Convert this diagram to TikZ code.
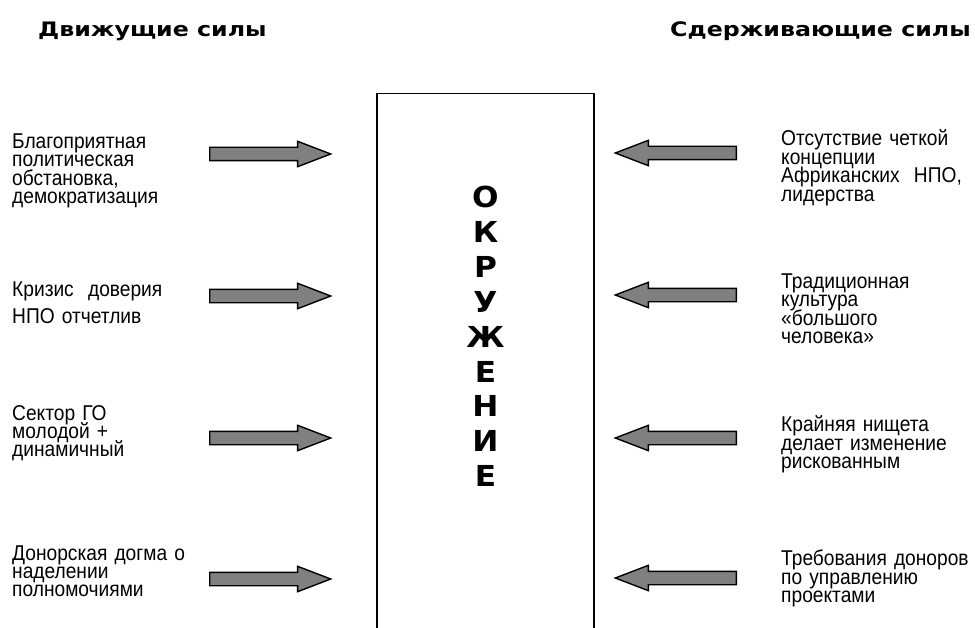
\documentclass[tikz,border=0pt]{standalone}
\usepackage{fontspec}
\setmainfont{Liberation Sans}
\newfontfamily\narrowfont[FakeStretch=0.895]{Liberation Sans}
\newfontfamily\headfont[FakeStretch=1.19]{DejaVu Sans}
\newfontfamily\wordfont[FakeStretch=1.08]{DejaVu Sans}
\usetikzlibrary{shapes.arrows, positioning}

\newcommand\bodysize{\narrowfont\fontsize{21.5}{18.5}\selectfont\lineskiplimit=-20pt\relax}

\begin{document}
\begin{tikzpicture}[ x = 1bp
                     , y = -1bp
                     , every node/.style = { inner sep = 0pt }
                     , force/.style = { single arrow
                                      , draw = black
                                      , line width = 1.4bp
                                      , fill = black!50
                                      , inner xsep = 0pt
                                      , inner ysep = 6bp
                                      , minimum height = 121bp
                                      , minimum width = 24bp
                                      , single arrow head extend = 6bp
                                      , single arrow tip angle = 42
                                      , anchor = tail }
                     , cause/.style = { anchor = base west
                                      , text width = 200bp
                                      , align = left
                                      , font = \bodysize }
                     , heading/.style = { anchor = base west
                                        , font = \headfont\bfseries\fontsize{20}{22}\selectfont }
                     ]

  \useasboundingbox (0,0) rectangle (975,628);

  \node (driving) [heading] at (38,37) {Движущие силы};
  \node (restraining) [heading] at (670,37) {Сдерживающие силы};

  \node (env) [draw, line width = 1.5bp, minimum width = 217bp, minimum height = 570bp, anchor = north] at (485.5,93) {};
  \node (envword) [align = center, font = \wordfont\bfseries\fontsize{29}{35}\selectfont] at (485.5,336.5)
  {О\\К\\Р\\У\\Ж\\Е\\Н\\И\\Е};

  \node (push1) [force] at (209,154) {};
  \node (push2) [force] at (209,296) {};
  \node (push3) [force] at (209,438) {};
  \node (push4) [force] at (209,579) {};

  \tikzset{force/.append style = { shape border rotate = 180 }}

  \node (hold1) [force] at (737,153) {};
  \node (hold2) [force] at (737,295) {};
  \node (hold3) [force] at (737,438) {};
  \node (hold4) [force] at (737,578) {};

  \node (cause1) [cause] at (12,148.3) {Благоприятная\\ политическая\\ обстановка,\\ демократизация};
  \node (cause2) [cause] at (12,296.7) {Кризис~ доверия\\[8.1bp] НПО отчетлив};
  \node (cause3) [cause] at (12,420) {Сектор ГО\\ молодой +\\ динамичный};
  \node (cause4) [cause] at (12,560) {Донорская догма о\\ наделении\\ полномочиями};

  \node (limit1) [cause] at (781,146) {Отсутствие четкой\\ концепции\\ Африканских~ НПО,\\ лидерства};
  \node (limit2) [cause] at (781,288.3) {Традиционная\\ культура\\ «большого\\ человека»};
  \node (limit3) [cause] at (781,431.7) {Крайняя нищета\\ делает изменение\\ рискованным};
  \node (limit4) [cause] at (781,565.7) {Требования доноров\\ по управлению\\ проектами};

\end{tikzpicture}
\end{document}
